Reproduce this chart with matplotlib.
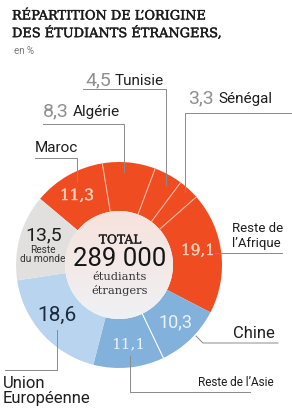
import numpy as np
import matplotlib
matplotlib.use("Agg")
import matplotlib.pyplot as plt
from matplotlib.patches import Circle
import matplotlib.patheffects as pe

# ---------------- data ----------------
categories = ["Maroc", "Algérie", "Tunisie", "Sénégal", "Reste de l'Afrique",
              "Chine", "Reste de l'Asie", "Union Européenne", "Reste du monde"]
values = [11.3, 8.3, 4.5, 3.3, 19.1, 10.3, 11.1, 18.6, 13.5]
value_labels = ["11,3", "8,3", "4,5", "3,3", "19,1", "10,3", "11,1", "18,6", "13,5"]
total_label = "289 000"

title_lines = ["RÉPARTITION DE L’ORIGINE", "DES ÉTUDIANTS ÉTRANGERS,"]
unit_label = "en %"

# ---------------- style ----------------
ORANGE = "#EF4C22"
BLUE_MED = "#82B1DC"
BLUE_LIGHT = "#B8D4EE"
GREY = "#E2E0DE"
colors = [ORANGE] * 5 + [BLUE_MED, BLUE_MED, BLUE_LIGHT, GREY]

SANS = ["Roboto", "DejaVu Sans"]
SERIF = ["DejaVu Serif"]

W, H = 292, 408
fig = plt.figure(figsize=(W / 100, H / 100), dpi=100)
ax = fig.add_axes([0, 0, 1, 1])
ax.set_xlim(0, W)
ax.set_ylim(0, H)
ax.set_aspect("equal")
ax.axis("off")


def Y(y):
    return H - y


CX, CY = 119, Y(265)
R_OUT, R_IN = 103, 54
START = 140

wedges, _ = ax.pie(values, colors=colors, startangle=START, counterclock=False,
                   radius=R_OUT, center=(CX, CY),
                   wedgeprops=dict(width=R_OUT - R_IN, linewidth=0))

# inner disc with soft gradient
grad = np.linspace(0, 1, 256).reshape(-1, 1)
top = np.array([0xF7, 0xE2, 0xDC]) / 255
bot = np.array([0xEF, 0xF1, 0xF4]) / 255
img = top[None, None, :] * (1 - grad[..., None]) + bot[None, None, :] * grad[..., None]
im = ax.imshow(img, extent=(CX - R_IN, CX + R_IN, CY - R_IN, CY + R_IN),
               origin="upper", zorder=1, aspect="auto")
clip = Circle((CX, CY), R_IN, transform=ax.transData)
im.set_clip_path(clip)
ax.set_xlim(0, W)
ax.set_ylim(0, H)

# separators between wedges
cum = np.cumsum(values)
tot = sum(values)
for i in range(len(values) - 1):
    ang = np.deg2rad(START - 360 * cum[i] / tot)
    if i < 4:
        col = "#F8B9A4"
    elif i == 5:
        col = "white"
    else:
        continue
    ax.plot([CX + R_IN * np.cos(ang), CX + R_OUT * np.cos(ang)],
            [CY + R_IN * np.sin(ang), CY + R_OUT * np.sin(ang)],
            color=col, lw=0.8, zorder=3)

# title
bold_fx = [pe.withStroke(linewidth=0.3, foreground="#1a1a1a")]
ax.text(12, Y(16), title_lines[0], family=SERIF, fontsize=9.3, color="#1a1a1a",
        va="center", ha="left", path_effects=bold_fx)
ax.text(12, Y(33), title_lines[1], family=SERIF, fontsize=9.3, color="#1a1a1a",
        va="center", ha="left", path_effects=bold_fx)
ax.text(14, Y(51), unit_label, family=SANS, fontsize=7, color="#777777",
        va="center", ha="left")

LINE = dict(color="#8a8a8a", lw=0.7, zorder=4)


def leader(pts):
    xs = [p[0] for p in pts]
    ys = [Y(p[1]) for p in pts]
    ax.plot(xs, ys, **LINE)


GREYNUM = "#8f8f8f"
DARK = "#1e1e1e"
PALE_O = "#F7CDBC"
PALE_B = "#EAF2FA"

# Tunisie
ax.text(85, Y(85), value_labels[2], family=SANS, fontsize=14, color=GREYNUM, va="baseline")
ax.text(115, Y(85), categories[2], family=SANS, fontsize=11, color=DARK, va="baseline")
leader([(83, 89), (166, 89), (166, 185)])

# Algérie
ax.text(43, Y(116), value_labels[1], family=SANS, fontsize=14, color=GREYNUM, va="baseline")
ax.text(73, Y(116), categories[1], family=SANS, fontsize=11, color=DARK, va="baseline")
leader([(43, 124), (124, 124), (124, 172)])

# Sénégal
ax.text(188, Y(103), value_labels[3], family=SANS, fontsize=14, color=GREYNUM, va="baseline")
ax.text(218, Y(103), categories[3], family=SANS, fontsize=11, color=DARK, va="baseline")
leader([(185, 192), (185, 113), (292, 113)])

# Maroc
ax.text(35, Y(152), categories[0], family=SANS, fontsize=11, color=DARK, va="baseline")
leader([(35, 158), (77, 158), (77, 182)])
ax.text(77, Y(196), value_labels[0], family=SERIF, fontsize=11, color=PALE_O,
        ha="center", va="center", zorder=5,
        path_effects=[pe.withStroke(linewidth=0.3, foreground=PALE_O)])

# Reste de l'Afrique
ax.text(232, Y(228), "Reste de", family=SANS, fontsize=9.5, color=DARK, va="center")
ax.text(232, Y(243), "l’Afrique", family=SANS, fontsize=9.5, color=DARK, va="center")
leader([(215, 253), (282, 253)])
ax.text(198, Y(251), value_labels[4], family=SERIF, fontsize=11, color=PALE_O,
        ha="center", va="center", zorder=5,
        path_effects=[pe.withStroke(linewidth=0.3, foreground=PALE_O)])

# Chine
ax.text(233, Y(333), categories[5], family=SANS, fontsize=12, color=DARK, va="center")
leader([(196, 336), (203, 343), (278, 343)])
ax.text(175, Y(322), value_labels[5], family=SANS, fontsize=13, color=PALE_B,
        ha="center", va="center", zorder=5)

# Reste de l'Asie
ax.text(198, Y(383), "Reste de l’Asie", family=SANS, fontsize=8.5, color=DARK, va="center")
leader([(130, 356), (130, 392), (250, 392)])
ax.text(128, Y(344), value_labels[6], family=SERIF, fontsize=11, color=PALE_B,
        ha="center", va="center", zorder=5)

# Union Européenne
ax.text(57, Y(315), value_labels[7], family=SANS, fontsize=15, color="#1d2b3e",
        ha="center", va="center", zorder=5)
leader([(57, 330), (57, 370), (5, 370)])
ax.text(3, Y(383), "Union", family=SANS, fontsize=12, color=DARK, va="center")
ax.text(3, Y(399), "Européenne", family=SANS, fontsize=12, color=DARK, va="center")

# Reste du monde
ax.text(44, Y(235), value_labels[8], family=SANS, fontsize=14, color="#1e1e1e",
        ha="center", va="center", zorder=5)
ax.text(43, Y(250), "Reste", family=SANS, fontsize=7.3, color="#333333",
        ha="center", va="center", zorder=5)
ax.text(43, Y(259), "du monde", family=SANS, fontsize=7.3, color="#333333",
        ha="center", va="center", zorder=5)

# centre
ax.text(120, Y(240), "TOTAL", family=SERIF, fontsize=8.8, color=DARK,
        ha="center", va="center", zorder=5,
        path_effects=[pe.withStroke(linewidth=0.25, foreground=DARK)])
ax.text(120, Y(259), total_label, family=SANS, fontsize=18.5, color="#151515",
        ha="center", va="center", zorder=5)
ax.text(120, Y(277), "étudiants", family=SERIF, fontsize=8.2, color="#333333",
        ha="center", va="center", zorder=5)
ax.text(120, Y(291), "étrangers", family=SERIF, fontsize=8.2, color="#333333",
        ha="center", va="center", zorder=5)

fig.savefig("out.png", dpi=100, facecolor="white")
